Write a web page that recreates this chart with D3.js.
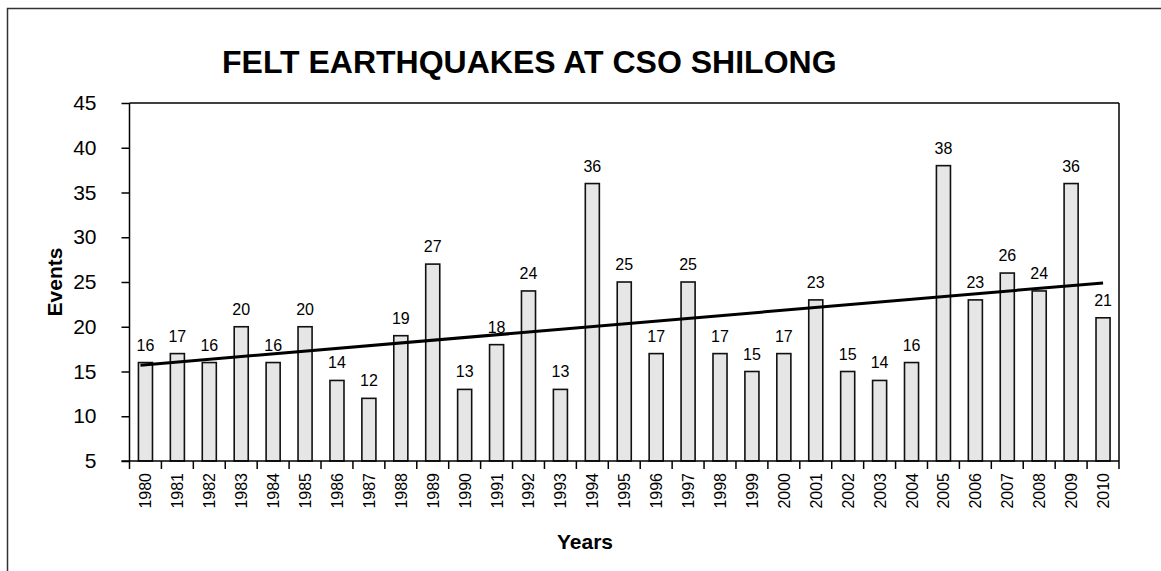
<!DOCTYPE html>
<html><head><meta charset="utf-8">
<script src="https://cdn.jsdelivr.net/npm/d3@7"></script>
<style>body{margin:0;background:#fff}svg{display:block;font-family:"Liberation Sans",Arial,sans-serif}</style>
</head><body><svg id="c" width="1161" height="571"></svg>
<script>
const years = ["1980","1981","1982","1983","1984","1985","1986","1987","1988","1989","1990","1991","1992","1993","1994","1995","1996","1997","1998","1999","2000","2001","2002","2003","2004","2005","2006","2007","2008","2009","2010"];
const events = [16,17,16,20,16,20,14,12,19,27,13,18,24,13,36,25,17,25,17,15,17,23,15,14,16,38,23,26,24,36,21];
const yTicks = [5,10,15,20,25,30,35,40,45];
const trendYears = ["1980","2010"];
const trendValues = [15.7,24.9];

const svg = d3.select("#c");
const L = 129.5, R = 1119, T = 103, B = 461;
svg.append("rect").attr("x",7.5).attr("y",8.5).attr("width",1170).attr("height",600)
  .attr("fill","none").attr("stroke","#333").attr("stroke-width",1.5);

const x = d3.scaleBand().domain(years).range([L,R]).paddingInner(0.56).paddingOuter(0.28);
const y = d3.scaleLinear().domain([5,45]).range([B,T]);

// frame top/right
svg.append("line").attr("x1",L).attr("x2",R).attr("y1",T).attr("y2",T).attr("stroke","#000").attr("stroke-width",1.5);
svg.append("line").attr("x1",R).attr("x2",R).attr("y1",T).attr("y2",B).attr("stroke","#000").attr("stroke-width",1.5);

// bars
svg.append("g").selectAll("rect").data(events).join("rect")
  .attr("x",(d,i)=>x(years[i])).attr("width",x.bandwidth())
  .attr("y",d=>y(d)).attr("height",d=>B-y(d))
  .attr("fill","#e6e6e7").attr("stroke","#111").attr("stroke-width",1.6);

// value labels
svg.append("g").selectAll("text").data(events).join("text")
  .attr("x",(d,i)=>x(years[i])+x.bandwidth()/2).attr("y",d=>y(d)-12)
  .attr("text-anchor","middle").attr("font-size",16).attr("fill","#000").text(d=>d);

// y axis
const ya = svg.append("g").attr("transform",`translate(${L},0)`)
  .call(d3.axisLeft(y).tickValues(yTicks).tickSize(8).tickPadding(25));
ya.select(".domain").attr("stroke","#000").attr("stroke-width",1.5).attr("d",`M0,${T}V${B}`);
ya.selectAll(".tick line").attr("stroke","#000").attr("stroke-width",1.5);
ya.selectAll(".tick text").attr("font-size",21).attr("fill","#000").attr("font-family","Liberation Sans, Arial, sans-serif");

// x axis (ticks at category boundaries)
const xa = svg.append("g").attr("transform",`translate(0,${B})`);
xa.append("line").attr("x1",L-8).attr("x2",R).attr("y1",0).attr("y2",0).attr("stroke","#000").attr("stroke-width",1.5);
const bounds = years.map(yr => x(yr) - x.step()*x.paddingInner()/2);
bounds.push(R);
xa.selectAll("line.tk").data(bounds).join("line").attr("class","tk")
  .attr("x1",d=>d).attr("x2",d=>d).attr("y1",0).attr("y2",8).attr("stroke","#000").attr("stroke-width",1.5);
xa.selectAll("text").data(years).join("text")
  .attr("transform",d=>`translate(${x(d)+x.bandwidth()/2+6},12) rotate(-90)`)
  .attr("text-anchor","end").attr("font-size",16).attr("fill","#000").text(d=>d);

// trend line
const line = d3.line().x((d,i)=>x(trendYears[i])+x.bandwidth()/2 - (i===0?5:0)).y(d=>y(d));
svg.append("path").datum(trendValues).attr("d",line).attr("fill","none").attr("stroke","#000").attr("stroke-width",3);

// titles
svg.append("text").attr("x",222).attr("y",73).attr("text-anchor","start").attr("font-size",32).attr("font-weight","bold").text("FELT EARTHQUAKES AT CSO SHILONG");
svg.append("text").attr("transform","translate(62,282) rotate(-90)").attr("text-anchor","middle").attr("font-size",21).attr("font-weight","bold").text("Events");
svg.append("text").attr("x",585).attr("y",549).attr("text-anchor","middle").attr("font-size",21).attr("font-weight","bold").text("Years");
</script></body></html>
